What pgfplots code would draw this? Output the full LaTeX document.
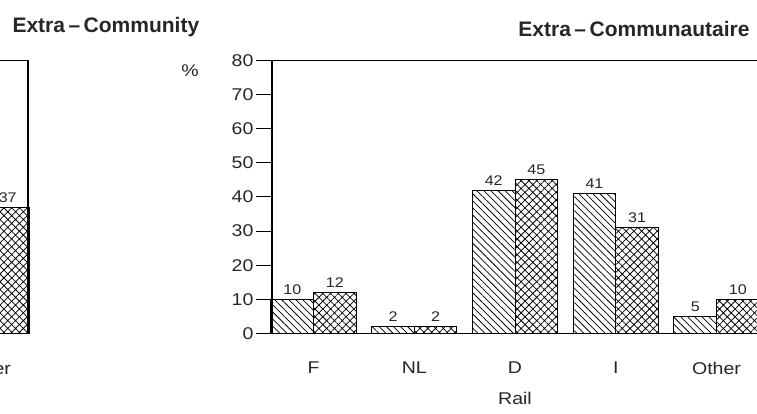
\documentclass[border=0pt]{standalone}
\usepackage{fontspec}
\setmainfont{Liberation Sans}
\newfontfamily\tickfont[FakeStretch=1.15]{Liberation Sans}
\usepackage{pgfplots}
\pgfplotsset{compat=1.18}
\usetikzlibrary{patterns.meta}

\pgfplotstableread{
x a b
0 10 12
1 2 2
2 42 45
3 41 31
4 5 10
}\raildata

\pgfplotstableread{
x b
4 37
}\leftdata

\pgfplotsset{
  mybars/.style={
    scale only axis, width=486pt, height=272.6pt,
    xmin=-0.412, xmax=4.412, ymin=0, ymax=80,
    xtick={0,1,2,3,4}, xticklabels={F,NL,D,I,Other},
    ytick={0,10,...,80},
    ytick pos=left, tick align=outside, major tick length=16pt,
    x tick style={draw=none},
    y tick style={line width=1pt, black},
    axis line style={line width=1.1pt, black},
    /pgf/number format/assume math mode=true,
    ticklabel style={font=\tickfont\fontsize{17}{17}\selectfont, text=black!85},
    yticklabel style={xshift=1pt},
    xticklabel style={anchor=north, yshift=-9pt},
    ybar, bar width=0.422,
    nodes near coords,
    nodes near coords style={font=\tickfont\fontsize{14}{14}\selectfont, text=black!85, yshift=1pt},
    clip=false,
  },
  hatchA/.style={draw=black, line width=1pt, bar shift=-0.211,
    pattern={Lines[angle=-45,distance=5pt,line width=0.75pt]}},
  hatchB/.style={draw=black, line width=1pt, bar shift=0.211,
    pattern={Hatch[angle=45,distance=5.5pt,line width=0.75pt]}},
}

\begin{document}
\begin{tikzpicture}[x=1pt,y=1pt]
\useasboundingbox (0,0) rectangle (757,414);
\begin{scope}
\clip (0,0) rectangle (757,414);
% left (partial) chart: only its right edge is in view
\begin{axis}[mybars, at={(-458pt,80.7pt)}, anchor=south west,
  xtick={4}, xticklabels={Other}, ytick=\empty]
  \addplot[hatchB] table[x=x,y=b] {\leftdata};
\end{axis}
% right chart
\begin{axis}[mybars, at={(272pt,80.7pt)}, anchor=south west,
  xlabel={Rail},
  xlabel style={font=\tickfont\fontsize{17}{17}\selectfont, text=black!85,
    at={(axis description cs:0.5,0)}, anchor=north, yshift=-55pt}]
  \addplot[hatchA] table[x=x,y=a] {\raildata};
  \addplot[hatchB] table[x=x,y=b] {\raildata};
\end{axis}
\node[anchor=west, font=\bfseries\fontsize{21}{21}\selectfont, text=black!85] at (9,387) {Extra\,--\,Community};
\node[anchor=east, font=\bfseries\fontsize{21}{21}\selectfont, text=black!85] at (753,385) {Extra\,--\,Communautaire};
\node[font=\tickfont\fontsize{17}{17}\selectfont, text=black!85] at (190,343) {\%};
\end{scope}
\end{tikzpicture}
\end{document}
